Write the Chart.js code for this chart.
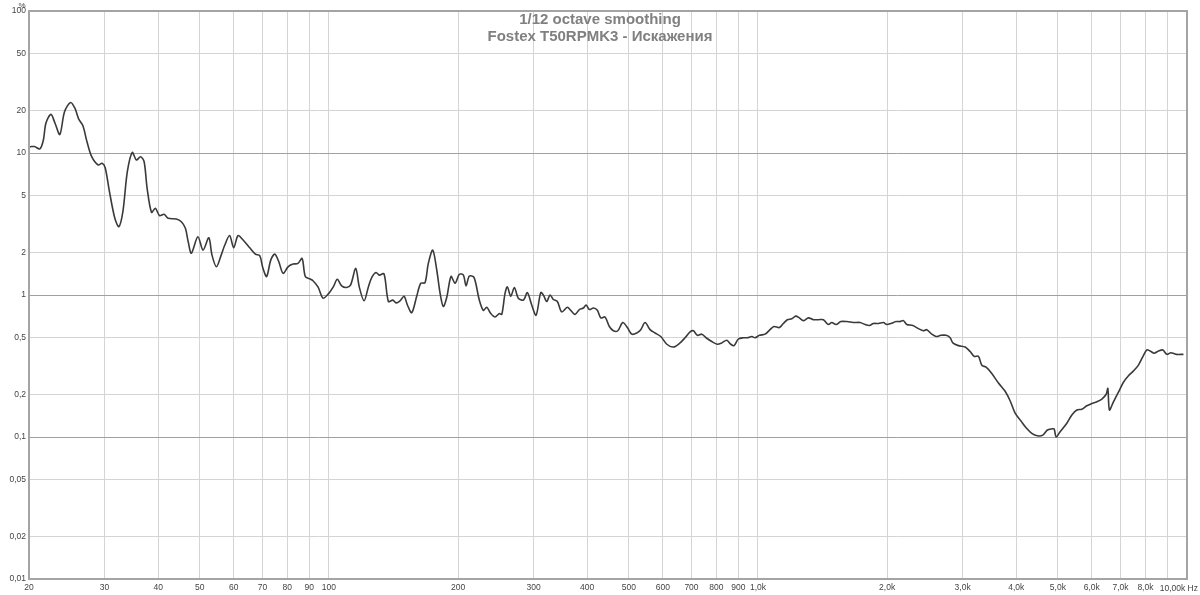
<!DOCTYPE html>
<html>
<head>
<meta charset="utf-8">
<script src="https://cdn.jsdelivr.net/npm/chart.js@4"></script>
<style>
  html, body { margin: 0; padding: 0; background: #fff; }
  canvas { display: block; }
</style>
</head>
<body>
<canvas id="distortion" width="1200" height="595"></canvas>
<script>
// THD curve (Hz / %)
const bassFreq = [20.0, 20.25, 20.6, 21.2, 21.6, 21.9, 22.5, 23.0, 23.6, 24.2,
  25.0, 25.6, 26.1, 26.7, 27.3, 28.0, 29.0, 29.6, 30.1, 30.8,
  31.7, 32.4, 33.1, 33.9, 34.8, 35.6, 36.4, 37.1, 37.7, 38.6,
  39.4, 40.3, 41.3, 42.2, 44.1, 45.3, 46.3, 47.0, 47.8, 49.5,
  50.9, 52.5, 53.4, 54.7, 56.1, 57.2, 58.7, 60.0, 61.4, 63.1,
  65.4, 67.4, 69.0, 70.2, 71.6, 73.2, 74.8, 76.4, 78.2, 80.3,
  82.5, 84.7, 86.6, 88.1, 90.2, 91.8, 94.3, 96.9, 99.5];
const bassVal = [11.0, 11.1, 11.1, 10.7, 12.3, 16.2, 18.7, 16.2, 13.5, 19.5,
  22.7, 20.6, 17.4, 15.6, 12.0, 9.42, 8.23, 8.46, 7.88, 5.34,
  3.47, 3.03, 3.86, 7.38, 10.1, 8.93, 9.42, 8.68, 5.64, 3.82,
  4.08, 3.62, 3.70, 3.47, 3.43, 3.28, 2.95, 2.37, 1.97, 2.57,
  2.07, 2.53, 1.91, 1.58, 1.91, 2.25, 2.62, 2.15, 2.62, 2.44,
  2.15, 1.94, 1.89, 1.54, 1.35, 1.76, 1.94, 1.72, 1.42, 1.58,
  1.65, 1.67, 1.81, 1.35, 1.30, 1.26, 1.14, 0.95, 1.01];

const midFreq = [102.4, 104.6, 107.1, 110.0, 112.4, 115.5, 117.7, 120.8, 123.6, 125.9,
  128.8, 131.1, 134.4, 137.6, 140.9, 143.4, 146.5, 149.7, 152.4, 156.0,
  160.2, 163.7, 167.5, 170.5, 174.6, 178.4, 181.6, 184.8, 188.2, 192.6,
  196.8, 201.4, 205.8, 208.8, 212.5, 217.9, 224.2, 229.1, 233.3, 238.4,
  243.9, 249.6, 252.9, 257.4, 260.6, 265.4, 270.6, 276.4, 284.0, 290.1,
  297.0, 304.0, 311.7, 316.1, 321.9, 327.7, 333.6, 340.8, 348.9, 359.6,
  366.2, 374.8, 383.5, 391.8, 397.6, 404.7, 413.4, 422.4, 430.2, 440.2,
  450.5, 460.3, 471.3, 484.1, 496.2, 508.1, 521.9, 533.2, 545.7, 560.5,
  575.7, 593.6, 613.1, 635.2, 658.4, 676.3, 694.7, 707.1, 722.5, 739.7,
  757.0, 780.5, 804.3, 823.5, 845.9, 864.3, 879.7, 900.3, 924.8, 944.8,
  967.4, 984.7];
const midVal = [1.14, 1.29, 1.16, 1.13, 1.18, 1.54, 1.14, 0.91, 1.14, 1.33,
  1.44, 1.38, 1.41, 0.90, 0.92, 0.88, 0.91, 0.98, 0.85, 0.75,
  0.98, 1.21, 1.22, 1.67, 2.07, 1.50, 1.03, 0.83, 0.96, 1.35,
  1.21, 1.40, 1.38, 1.16, 1.36, 1.33, 0.92, 0.78, 0.82, 0.74,
  0.70, 0.74, 0.73, 1.03, 1.14, 0.98, 1.13, 0.95, 0.92, 1.04,
  0.85, 0.72, 1.04, 1.00, 0.90, 1.00, 0.93, 0.90, 0.76, 0.82,
  0.78, 0.73, 0.79, 0.81, 0.85, 0.79, 0.81, 0.78, 0.69, 0.70,
  0.60, 0.56, 0.56, 0.64, 0.59, 0.53, 0.54, 0.57, 0.64, 0.57,
  0.54, 0.51, 0.45, 0.43, 0.46, 0.50, 0.55, 0.56, 0.52, 0.53,
  0.50, 0.47, 0.45, 0.46, 0.48, 0.45, 0.44, 0.49, 0.50, 0.50,
  0.51, 0.50];

const highFreq = [1008, 1039, 1067, 1090, 1122, 1146, 1171, 1199, 1225, 1249,
  1276, 1311, 1347, 1383, 1421, 1459, 1486, 1521, 1560, 1611,
  1669, 1730, 1777, 1819, 1858, 1909, 1961, 1997, 2040, 2099,
  2144, 2183, 2223, 2296, 2366, 2430, 2475, 2542, 2602, 2668,
  2745, 2805, 2846, 2932, 3040, 3123, 3190, 3265, 3325, 3403,
  3508, 3635, 3768, 3870, 3976, 4099, 4217, 4348, 4481, 4613,
  4728, 4841, 4901, 4954, 5062, 5247, 5390, 5537, 5687, 5842,
  6001, 6164, 6332, 6480, 6539, 6595, 6739, 6922, 7110, 7304,
  7502, 7706, 7891, 8062, 8206, 8384, 8580, 8785, 8975, 9170,
  9435, 9812];
const highVal = [0.52, 0.53, 0.57, 0.60, 0.59, 0.63, 0.67, 0.68, 0.71, 0.69,
  0.66, 0.69, 0.67, 0.67, 0.67, 0.62, 0.64, 0.62, 0.65, 0.65,
  0.64, 0.64, 0.62, 0.61, 0.63, 0.63, 0.64, 0.62, 0.63, 0.65,
  0.65, 0.66, 0.62, 0.61, 0.58, 0.56, 0.57, 0.53, 0.51, 0.52,
  0.52, 0.50, 0.46, 0.44, 0.43, 0.40, 0.37, 0.37, 0.32, 0.31,
  0.28, 0.24, 0.21, 0.18, 0.147, 0.130, 0.116, 0.106, 0.102, 0.103,
  0.112, 0.114, 0.114, 0.100, 0.109, 0.125, 0.143, 0.155, 0.157, 0.166,
  0.172, 0.177, 0.185, 0.200, 0.220, 0.155, 0.177, 0.207, 0.243, 0.270,
  0.292, 0.321, 0.368, 0.410, 0.403, 0.389, 0.403, 0.410, 0.382, 0.392,
  0.382, 0.382];

const xTicks = [20, 30, 40, 50, 60, 70, 80, 90, 100, 200, 300, 400, 500, 600, 700, 800, 900,
  1000, 2000, 3000, 4000, 5000, 6000, 7000, 8000, 9000, 10000];
const yTicks = [100, 50, 20, 10, 5, 2, 1, 0.5, 0.2, 0.1, 0.05, 0.02, 0.01];
const titleLines = ["1/12 octave smoothing", "Fostex T50RPMK3 - Искажения"];

const freqs = bassFreq.concat(midFreq, highFreq);
const vals = bassVal.concat(midVal, highVal);
const points = freqs.map((f, i) => ({ x: f, y: vals[i] }));

const tickFont = { family: "'Liberation Sans', Arial, sans-serif", size: 8.5 };

const xLabel = (v) => {
  if (v >= 9000) return "";
  if (v >= 1000) return (v / 1000) + ",0k";
  return String(v);
};

const decorations = {
  id: "decorations",
  afterDraw(chart) {
    const { ctx, chartArea: a } = chart;
    ctx.save();
    // plot frame
    ctx.strokeStyle = "#a4a4a4";
    ctx.lineWidth = 2;
    ctx.strokeRect(a.left, a.top, a.right - a.left, a.bottom - a.top);
    // titles
    ctx.fillStyle = "#808080";
    ctx.font = "bold 15px 'Liberation Sans', Arial, sans-serif";
    ctx.textAlign = "center";
    ctx.textBaseline = "alphabetic";
    ctx.fillText(titleLines[0], 600, 24);
    ctx.fillText(titleLines[1], 600, 41);
    // units
    ctx.fillStyle = "#444";
    ctx.font = "8px 'Liberation Sans', Arial, sans-serif";
    ctx.textAlign = "center";
    ctx.fillText("%", 22, 8);
    ctx.font = "8.5px 'Liberation Sans', Arial, sans-serif";
    ctx.textAlign = "right";
    ctx.fillText("10,00k Hz", 1198, 591);
    ctx.restore();
  }
};

window.distortionChart = new Chart(document.getElementById("distortion"), {
  type: "line",
  data: {
    datasets: [
      {
        data: points,
        borderColor: "#3a3a3a",
        borderWidth: 1.6,
        pointRadius: 0,
        tension: 0.3,
        fill: false,
      },
    ],
  },
  options: {
    responsive: false,
    animation: false,
    layout: { padding: { top: 11, right: 13, left: 0, bottom: 0 } },
    plugins: { legend: { display: false }, tooltip: { enabled: false } },
    scales: {
      x: {
        type: "logarithmic",
        min: 20,
        max: 10000,
        afterBuildTicks: (s) => { s.ticks = xTicks.map((v) => ({ value: v })); },
        afterFit: (s) => { s.height = 16; },
        border: { display: false },
        grid: { color: "#d4d4d4", drawTicks: false },
        ticks: {
          autoSkip: false,
          maxRotation: 0,
          padding: 4,
          color: "#444",
          font: tickFont,
          callback: (v) => xLabel(v),
        },
      },
      y: {
        type: "logarithmic",
        min: 0.01,
        max: 100,
        afterBuildTicks: (s) => { s.ticks = yTicks.map((v) => ({ value: v })); },
        afterFit: (s) => { s.width = 29; },
        border: { display: false },
        grid: {
          color: (c) => ([10, 1, 0.1].includes(c.tick.value) ? "#a0a0a0" : "#d4d4d4"),
          drawTicks: false,
        },
        ticks: {
          autoSkip: false,
          padding: 3,
          color: "#444",
          font: tickFont,
          callback: (v) => String(v).replace(".", ","),
        },
      },
    },
  },
  plugins: [decorations],
});
</script>
</body>
</html>
